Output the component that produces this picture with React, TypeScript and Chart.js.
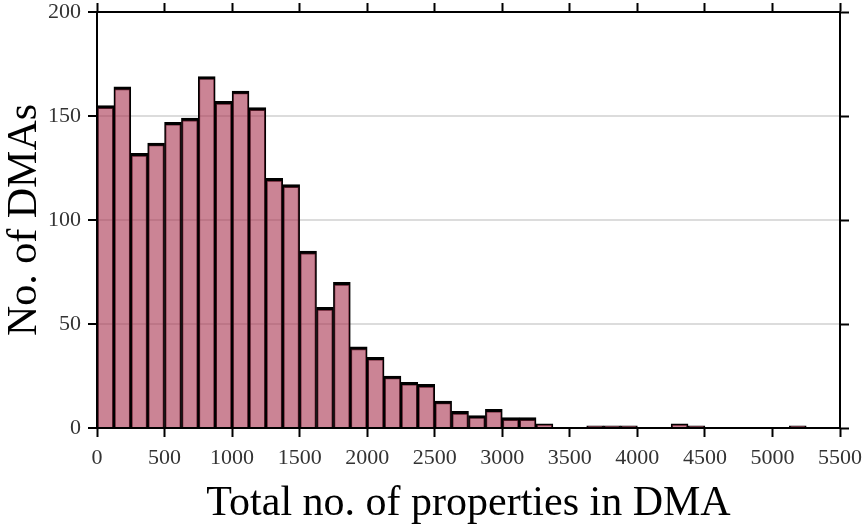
import React, { useEffect, useRef } from "react";
import { Chart, registerables } from "chart.js";

Chart.register(...registerables);

// Histogram bins (start of each bin, width 125)
const binWidth = 125;
const binStarts = [
  0, 125, 250, 375, 500, 625, 750, 875, 1000, 1125, 1250, 1375, 1500, 1625,
  1750, 1875, 2000, 2125, 2250, 2375, 2500, 2625, 2750, 2875, 3000, 3125,
  3250, 3375, 3500, 3625, 3750, 3875, 4000, 4125, 4250, 4375, 4500, 4625,
  4750, 4875, 5000, 5125,
];
const counts = [
  155, 164, 132, 137, 147, 149, 169, 157, 162, 154, 120, 117, 85, 58, 70, 39,
  34, 25, 22, 21, 13, 8, 6, 9, 5, 5, 2, 0, 0, 1, 1, 1, 0, 0, 2, 1, 0, 0, 0, 0,
  0, 1,
];
const xMin = 0;
const xMax = 5500;
const xStep = 500;
const yMin = 0;
const yMax = 200;
const yStep = 50;
const xTitle = "Total no. of properties in DMA";
const yTitle = "No. of DMAs";

const FONT = '"Liberation Serif", "Times New Roman", serif';

const noPad = (s: any) => {
  s.paddingLeft = 0;
  s.paddingRight = 0;
  s.paddingTop = 0;
  s.paddingBottom = 0;
};

export default function App() {
  const ref = useRef<HTMLCanvasElement | null>(null);

  useEffect(() => {
    if (!ref.current) return;
    Chart.defaults.font.family = FONT;
    const tickMark = {
      drawOnChartArea: false,
      drawTicks: true,
      tickLength: 9,
      tickColor: "#000",
      tickWidth: 2,
      offset: false,
    };
    const chart = new Chart(ref.current, {
      type: "bar",
      data: {
        datasets: [
          {
            data: binStarts.map((s, i) => ({ x: s + binWidth / 2, y: counts[i] })),
            backgroundColor: "rgba(168, 50, 79, 0.6)",
            borderColor: "#000",
            borderWidth: { top: 3, left: 1.5, right: 1.5, bottom: 0 },
            barPercentage: 1,
            categoryPercentage: 1,
          },
        ],
      },
      options: {
        animation: false,
        responsive: true,
        maintainAspectRatio: false,
        layout: { padding: 0 },
        plugins: { legend: { display: false }, tooltip: { enabled: false } },
        scales: {
          x: {
            type: "linear",
            position: "bottom",
            min: xMin,
            max: xMax,
            offset: false,
            z: 1,
            grid: { ...tickMark },
            border: { color: "#000", width: 2 },
            ticks: {
              stepSize: xStep,
              autoSkip: false,
              maxRotation: 0,
              padding: 8,
              color: "#333",
              font: { size: 22, family: FONT },
              callback: (v: any) => String(v),
            },
            title: {
              display: true,
              text: xTitle,
              color: "#000",
              font: { size: 42, family: FONT },
              padding: 0,
            },
            afterFit: (s: any) => {
              s.height = 101;
              noPad(s);
            },
          },
          xTop: {
            type: "linear",
            position: "top",
            min: xMin,
            max: xMax,
            offset: false,
            z: 1,
            grid: { ...tickMark },
            border: { color: "#000", width: 2 },
            ticks: { stepSize: xStep, display: false },
            afterFit: (s: any) => {
              s.height = 12;
              noPad(s);
            },
          },
          y: {
            type: "linear",
            position: "left",
            min: yMin,
            max: yMax,
            grid: {
              drawOnChartArea: true,
              color: "#dcdcdc",
              lineWidth: 2,
              drawTicks: true,
              tickLength: 9,
              tickColor: "#000",
              tickWidth: 2,
            },
            border: { color: "#000", width: 2 },
            ticks: {
              stepSize: yStep,
              padding: 7,
              color: "#333",
              font: { size: 22, family: FONT },
              callback: (v: any) => String(v),
            },
            title: {
              display: true,
              text: yTitle,
              color: "#000",
              font: { size: 42, family: FONT },
              padding: 0,
            },
            afterFit: (s: any) => {
              s.width = 97;
              noPad(s);
            },
          },
          yRight: {
            type: "linear",
            position: "right",
            min: yMin,
            max: yMax,
            z: 1,
            grid: { ...tickMark },
            border: { color: "#000", width: 2 },
            ticks: { stepSize: yStep, display: false },
            afterFit: (s: any) => {
              s.width = 25;
              noPad(s);
            },
          },
        },
      },
    });
    return () => chart.destroy();
  }, []);

  return (
    <div
      style={{
        position: "absolute",
        left: 0,
        top: 0,
        width: 865,
        height: 529,
        background: "#fff",
      }}
    >
      <canvas ref={ref} />
    </div>
  );
}
